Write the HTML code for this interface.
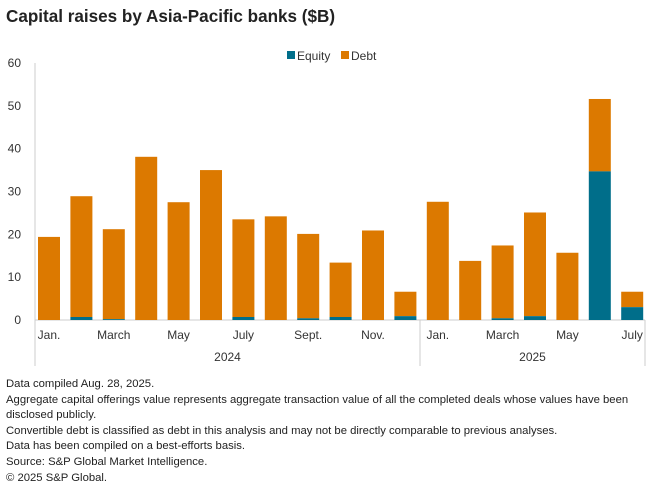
<!DOCTYPE html>
<html><head><meta charset="utf-8">
<style>
body{margin:0;background:#fff;font-family:"Liberation Sans",sans-serif;}
#wrap{position:relative;width:660px;height:492px;overflow:hidden;}
h1{position:absolute;left:6px;top:7px;margin:0;font-size:17.1px;font-weight:bold;color:#222;}
.notes{position:absolute;left:6px;top:377px;font-size:11.3px;color:#222;line-height:15.6px;}
.notes div{margin:0}
</style></head><body>
<div id="wrap">
<h1>Capital raises by Asia-Pacific banks ($B)</h1>
<svg id="chart" width="660" height="380" style="position:absolute;left:0;top:0"></svg>
<div class="notes">
<div>Data compiled Aug. 28, 2025.</div>
<div>Aggregate capital offerings value represents aggregate transaction value of all the completed deals whose values have been<br>disclosed publicly.</div>
<div>Convertible debt is classified as debt in this analysis and may not be directly comparable to previous analyses.</div>
<div>Data has been compiled on a best-efforts basis.</div>
<div>Source: S&amp;P Global Market Intelligence.</div>
<div>© 2025 S&amp;P Global.</div>
</div>
</div>
<script>
const months=["Jan.","","March","","May","","July","","Sept.","","Nov.","","Jan.","","March","","May","","July"];
const totals=[19.4,28.9,21.2,38.1,27.5,35.0,23.5,24.2,20.1,13.4,20.9,6.6,27.6,13.8,17.4,25.1,15.7,51.6,6.6];
const equity=[0,0.7,0.2,0,0,0,0.7,0,0.4,0.7,0,0.9,0,0,0.4,0.9,0,34.7,3.0];
const yTicks=[0,10,20,30,40,50,60];
const years=["2024","2025"];
const NS="http://www.w3.org/2000/svg";
const svg=document.getElementById('chart');
const x0=35,x1=645,yBase=320,yTop=63,yMax=60;
const y=v=>yBase-(v/yMax)*(yBase-yTop);
const xc=i=>38+11+i*32.4;
function el(t,a){const e=document.createElementNS(NS,t);for(const k in a)e.setAttribute(k,a[k]);svg.appendChild(e);return e;}
yTicks.forEach(t=>{const tx=el('text',{x:21,y:y(t)+4,'text-anchor':'end','font-size':12,fill:'#333','font-family':'Liberation Sans'});tx.textContent=t;

});
const ax=el('line',{x1:x0,y1:yTop,x2:x0,y2:yBase,stroke:'#ccc','stroke-width':1});


const bx=el('line',{x1:x0,y1:yBase,x2:x1,y2:yBase,stroke:'#ccc','stroke-width':1});


[x0,420,x1].forEach(xx=>{const l=el('line',{x1:xx,y1:yBase,x2:xx,y2:366,stroke:'#ccc','stroke-width':1});

});
totals.forEach((t,i)=>{const e=equity[i];const cx=xc(i);
const d=el('rect',{x:cx-11,y:y(t),width:22,height:y(e)-y(t),fill:'#dc7900'});


if(e>0){const q=el('rect',{x:cx-11,y:y(e),width:22,height:yBase-y(e),fill:'#006e8a'});

}
if(months[i]){const tx=el('text',{x:cx,y:339,'text-anchor':'middle','font-size':12,fill:'#333','font-family':'Liberation Sans'});tx.textContent=months[i];

}});
[[x0,420],[420,x1]].forEach((r,i)=>{const tx=el('text',{x:(r[0]+r[1])/2,y:361,'text-anchor':'middle','font-size':12,fill:'#333','font-family':'Liberation Sans'});tx.textContent=years[i];

});
const lg=[["Equity","#006e8a",287],["Debt","#dc7900",341]];
lg.forEach(g=>{const r=el('rect',{x:g[2],y:51,width:8,height:8,fill:g[1]});


const tx=el('text',{x:g[2]+10,y:60,'font-size':12,fill:'#333','font-family':'Liberation Sans'});tx.textContent=g[0];

});
</script>
</body></html>
